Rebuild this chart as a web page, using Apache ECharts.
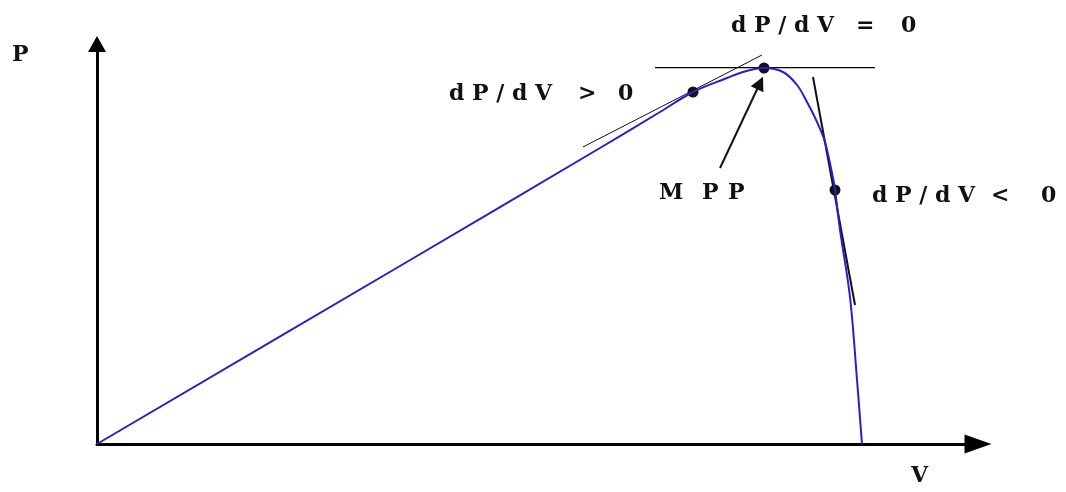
<!DOCTYPE html>
<html>
<head>
<meta charset="utf-8">
<title>P-V curve, MPP</title>
<script src="https://cdn.jsdelivr.net/npm/echarts@6/dist/echarts.min.js"></script>
<style>
  html, body { margin: 0; padding: 0; background: #fff; }
  #main { width: 1066px; height: 492px; }
</style>
</head>
<body>
<div id="main"></div>
<script>
// P-V curve (arbitrary units: V 0..100, P 0..100)
const curveV = [0, 34.39, 57.09, 63.90, 67.65, 71.51, 73.33, 75.71, 77.87, 79.46, 80.59, 81.73, 82.63, 83.54, 83.77, 84.34, 85.47, 86.27, 86.83];
const curveP = [0, 44.5, 74, 83, 88, 91.5, 93, 94, 93, 89.75, 85.5, 80.5, 75.5, 66.5, 63.5, 53.5, 36.75, 16, 0];

// operating points: dP/dV > 0, MPP, dP/dV < 0
const pointV = [67.65, 75.71, 83.77];
const pointP = [88, 94, 63.5];

// tangent segments [v1, p1, v2, p2]
const tangentFlat = [63.34, 94.1, 88.31, 94.1];
const tangentLeft = [55.16, 74.25, 75.48, 97.25];
const tangentRight = [81.27, 91.75, 86.04, 34.75];

// arrow from the MPP label to the peak
const mppArrow = [70.72, 69, 75.26, 90.25];

const slopeText = 'd P / d V';
const operators = ['=', '>', '<'];

const serif = 'DejaVu Serif';

function seg(s) {
  return [[s[0], s[1]], [s[2], s[3]]];
}

function label(text, x, y, size) {
  return { type: 'text', left: x, top: y, silent: true,
    style: { text: text, font: 'bold ' + size + 'px "' + serif + '"', fill: '#111' } };
}

// "dP/dV op 0" with the wide gaps of the original drawing
function slopeLabel(op, x0, x1, x2, y) {
  return [label(slopeText, x0, y, 22), label(op, x1, y, 22), label('0', x2, y, 22)];
}

const chart = echarts.init(document.getElementById('main'));

const option = {
  animation: false,
  backgroundColor: '#fff',
  grid: { left: 97, right: 88, top: 44, bottom: 48 },
  xAxis: {
    type: 'value', min: 0, max: 100,
    axisLine: { show: true, symbol: ['none', 'triangle'], symbolSize: [19, 27],
      lineStyle: { color: '#000', width: 3 } },
    axisTick: { show: false }, axisLabel: { show: false }, splitLine: { show: false }
  },
  yAxis: {
    type: 'value', min: 0, max: 100,
    axisLine: { show: true, symbol: ['none', 'triangle'], symbolSize: [18, 16],
      lineStyle: { color: '#000', width: 3 } },
    axisTick: { show: false }, axisLabel: { show: false }, splitLine: { show: false }
  },
  series: [
    {
      type: 'line', data: seg(tangentFlat), showSymbol: false, silent: true,
      lineStyle: { color: '#000', width: 1.2 }
    },
    {
      type: 'line', data: seg(tangentLeft), showSymbol: false, silent: true,
      lineStyle: { color: '#111', width: 1 }
    },
    {
      type: 'line', data: seg(tangentRight), showSymbol: false, silent: true,
      lineStyle: { color: '#111', width: 2 }
    },
    {
      type: 'line',
      data: curveV.map((v, i) => [v, curveP[i]]),
      showSymbol: false, smooth: 0.35, silent: true,
      lineStyle: { color: '#2a1fd0', width: 2 },
      markLine: {
        silent: true, symbol: ['none', 'triangle'], symbolSize: 14,
        label: { show: false },
        lineStyle: { color: '#111', width: 2, type: 'solid' },
        data: [[{ coord: [mppArrow[0], mppArrow[1]] }, { coord: [mppArrow[2], mppArrow[3]] }]]
      }
    },
    {
      type: 'scatter', symbolSize: 11, silent: true,
      data: pointV.map((v, i) => [v, pointP[i]]),
      itemStyle: { color: '#111', opacity: 1 }
    }
  ],
  graphic: [].concat(
    slopeLabel(operators[0], 731, 856, 901, 15),
    slopeLabel(operators[1], 449, 578, 618, 83),
    slopeLabel(operators[2], 872, 991, 1041, 185),
    [
      label('M', 659, 182, 22),
      label('P', 702, 182, 22),
      label('P', 728, 182, 22),
      label('P', 12, 44, 22),
      label('V', 911, 465, 22)
    ]
  )
};

chart.setOption(option);
</script>
</body>
</html>
